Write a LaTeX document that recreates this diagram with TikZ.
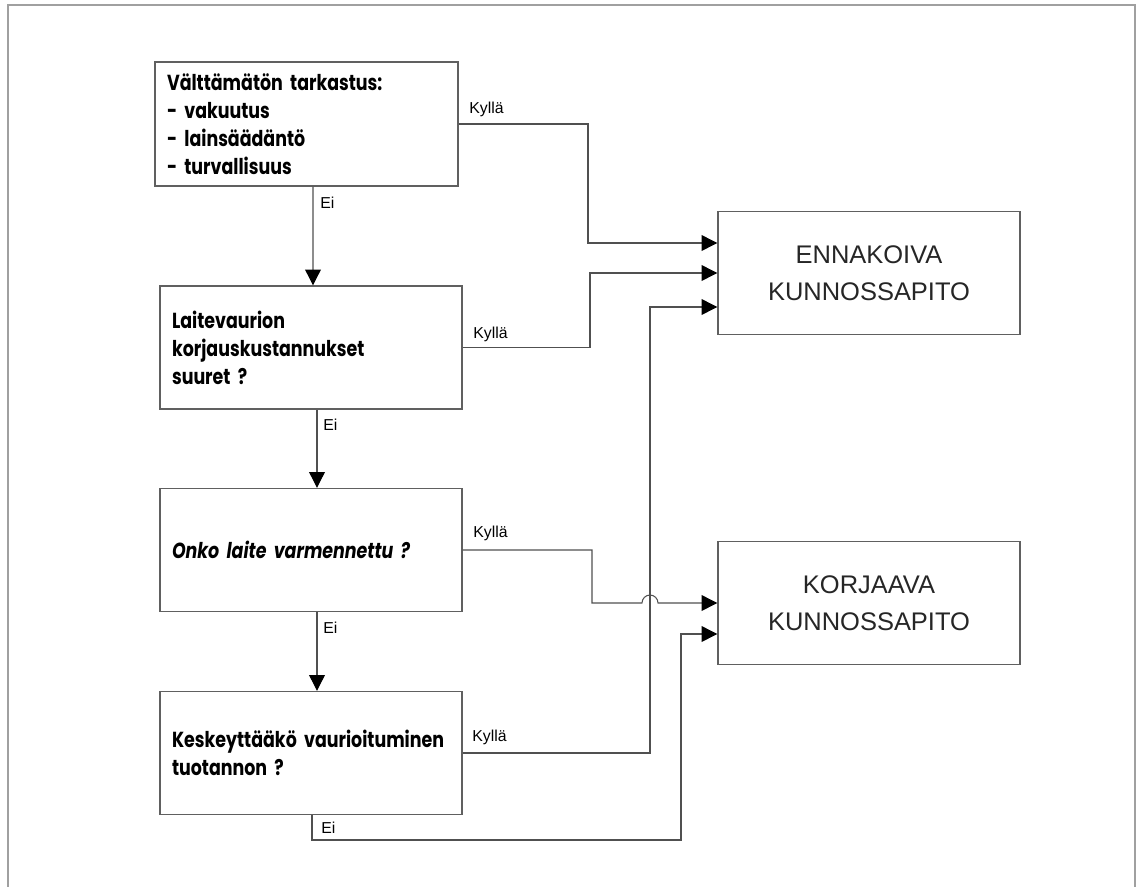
\documentclass[tikz,border=0pt]{standalone}
\usepackage{fontspec}
\setmainfont{Liberation Sans}
\newfontfamily\handfont{Poppins}[FakeStretch=0.8]
\usetikzlibrary{arrows.meta,calc}
\definecolor{boxgray}{HTML}{606060}
\definecolor{linegray}{HTML}{505050}
\definecolor{framegray}{HTML}{A0A0A0}
\begin{document}
\begin{tikzpicture}[x=0.02cm,y=-0.02cm,
  box/.style={draw=boxgray,line width=0.8pt,rectangle,minimum width=6.04cm,minimum height=2.46cm,
    text width=5.56cm,inner xsep=0.24cm,inner ysep=0pt,align=left,
    font=\handfont\bfseries\fontsize{12.4}{15.9}\selectfont},
  bigbox/.style={draw=boxgray,line width=0.8pt,rectangle,minimum width=6.04cm,minimum height=2.46cm,
    align=center,text=black!85,font=\fontsize{14.5}{21}\selectfont},
  conn/.style={draw=linegray,line width=0.6pt},
  arr/.style={conn,-{Triangle[length=9pt,width=9pt,color=black]}},
  lab/.style={font=\fontsize{9}{10}\selectfont,inner sep=0pt,anchor=base west}
]
\useasboundingbox (0,0) rectangle (1136,886);
\draw[framegray,line width=1.2pt] (8,890) -- (8,5) -- (1135,5) -- (1135,890);

\node[box,minimum width=6.06cm,text width=5.58cm,minimum height=2.48cm] (b1) at (306.5,124)
  {Välttämätön tarkastus:\\- vakuutus\\- lainsäädäntö\\- turvallisuus};
\node[box] (b2) at (311,347.5) {Laitevaurion\\korjauskustannukset\\suuret ?};
\node[box] (b3) at (311,550) {\itshape Onko laite varmennettu ?};
\node[box] (b4) at (311,753) {Keskeyttääkö vaurioituminen\\tuotannon ?};
\node[bigbox] (e) at (869,273) {ENNAKOIVA\\KUNNOSSAPITO};
\node[bigbox] (k) at (869,603) {KORJAAVA\\KUNNOSSAPITO};

% labels
\node[lab] (l1y) at (469,113) {Kyllä};
\node[lab] (l1n) at (320,208) {Ei};
\node[lab] (l2y) at (473,338) {Kyllä};
\node[lab] (l2n) at (323,430) {Ei};
\node[lab] (l3y) at (473,537) {Kyllä};
\node[lab] (l3n) at (323,633) {Ei};
\node[lab] (l4y) at (472,741) {Kyllä};
\node[lab] (l4n) at (321,833) {Ei};

% Ei arrows
\draw[arr] ([xshift=0.13cm]b1.south) -- ([xshift=0.04cm]b2.north);
\draw[arr] ([xshift=0.12cm]b2.south) -- ([xshift=0.12cm]b3.north);
\draw[arr] ([xshift=0.12cm]b3.south) -- ([xshift=0.12cm]b4.north);

% Kyllä connectors
\draw[arr] (b1.east) -- (588,124) |- ($(e.west)+(0,-30)$);
\draw[arr] (b2.east) -- (590,347.5) |- (e.west);
\draw[arr] (b3.east) -- (592,550) |- (642,603) arc[start angle=180,end angle=0,radius=0.16cm] -- (k.west);
\draw[arr] (b4.east) -- (650,753) |- ($(e.west)+(0,34)$);
\draw[arr] ([xshift=0.02cm]b4.south) |- (681,840) |- ($(k.west)+(0,31)$);
\end{tikzpicture}
\end{document}
